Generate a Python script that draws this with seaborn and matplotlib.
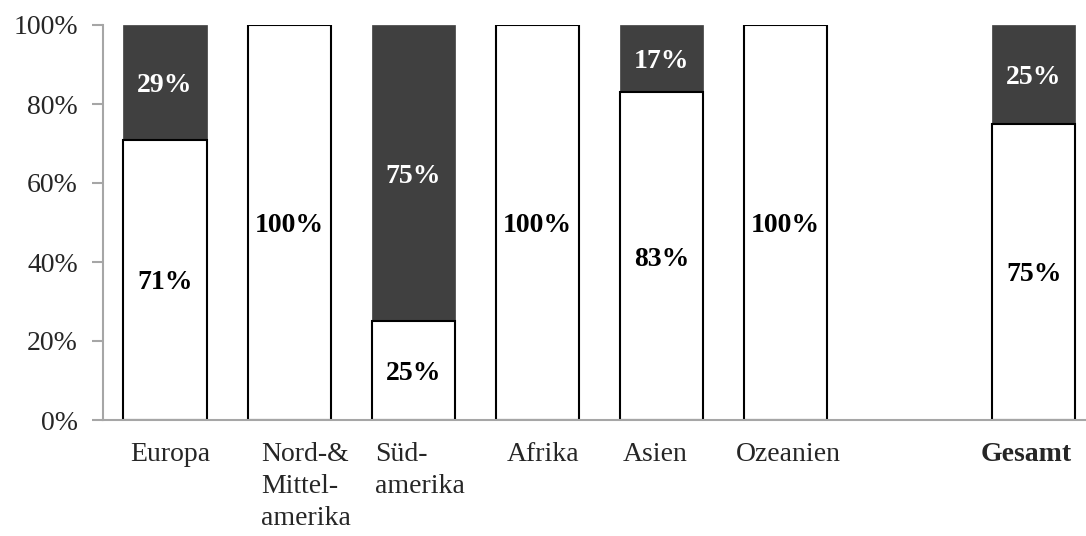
import matplotlib
matplotlib.use("Agg")
import matplotlib.pyplot as plt
import matplotlib.transforms as mtransforms
import numpy as np
import pandas as pd
import seaborn as sns

# Regions (one empty slot before the overall bar) and shares in percent
categories = ["Europa", "Nord-&\nMittel-\namerika", "Süd-\namerika", "Afrika",
              "Asien", "Ozeanien", "", "Gesamt"]
share_light = [71, 100, 25, 100, 83, 100, None, 75]
share_dark = [29, 0, 75, 0, 17, 0, None, 25]
y_ticks = [0, 20, 40, 60, 80, 100]

sns.set_style("white")
plt.rcParams["font.family"] = ["Liberation Serif", "DejaVu Serif"]
plt.rcParams["font.size"] = 20

rows = [(c, a, b) for c, a, b in zip(categories, share_light, share_dark) if a is not None]
df = pd.DataFrame(rows, columns=["region", "light", "dark"])
df["total"] = df["light"] + df["dark"]

fig = plt.figure(figsize=(10.86, 5.36), dpi=100)
W, H = 1086, 536
ax = fig.add_axes([103 / W, (H - 420) / H, (W - 103) / W, 395 / H])

gray = "#a6a6a6"
dark = "#404040"

# full-height dark bars, then the light share drawn over them
sns.barplot(data=df, x="region", y="total", order=categories, color=dark,
            saturation=1, width=0.67, edgecolor=dark, linewidth=0.5, ax=ax)
sns.barplot(data=df, x="region", y="light", order=categories, color="white",
            saturation=1, width=0.67, edgecolor="black", linewidth=1.5, ax=ax)

for i, (a, b) in enumerate(zip(share_light, share_dark)):
    if a is None:
        continue
    if a > 0:
        ax.text(i, a / 2, f"{a}%", ha="center", va="center_baseline", fontsize=20,
                fontweight="bold", color="black")
    if b > 0:
        ax.text(i, a + b / 2, f"{b}%", ha="center", va="center_baseline", fontsize=20,
                fontweight="bold", color="white")

ax.set_yticks(y_ticks)
ax.set_yticklabels([f"{v}%" for v in y_ticks])
ax.set_xlabel("")
ax.set_ylabel("")

ax.set_xticks(range(len(categories)))
ax.set_xticklabels(categories, multialignment="left", va="top", linespacing=1.37)
ax.set_xticks(np.arange(-0.5, len(categories)), minor=True)
ax.tick_params(axis="x", which="major", length=0, pad=16)
ax.tick_params(axis="x", which="minor", length=6, width=1.5, color=gray, direction="out")
ax.tick_params(axis="y", length=8, width=1.5, color=gray, direction="out", pad=10, left=True)

# limits last, so the tick setters cannot widen them
ax.set_xlim(-0.5, -0.5 + (W - 103) / 124.1)
ax.set_ylim(0, 100)

# small horizontal nudges of the wrapped category labels (in pixels)
label_shift_px = [5, 17, 7, 6, -6, 3, 0, -8]
for lbl, dx in zip(ax.get_xticklabels(), label_shift_px):
    lbl.set_transform(lbl.get_transform() +
                      mtransforms.ScaledTranslation(dx / 100, 0, fig.dpi_scale_trans))
    if lbl.get_text() == "Gesamt":
        lbl.set_fontweight("bold")

for side in ("top", "right"):
    ax.spines[side].set_visible(False)
for side in ("left", "bottom"):
    ax.spines[side].set_color(gray)
    ax.spines[side].set_linewidth(1.5)

fig.savefig("out.png", dpi=100, facecolor="white")
